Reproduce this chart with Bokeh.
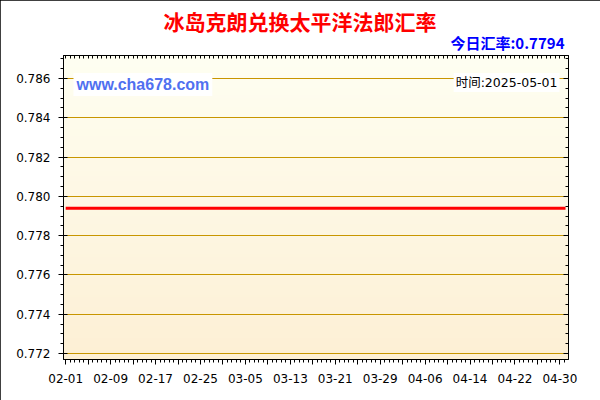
import numpy as np
import pandas as pd
from bokeh.plotting import figure
from bokeh.models import (Range1d, FixedTicker, LinearAxis, DatetimeAxis, Title,
                          Label, NumeralTickFormatter)
from bokeh.embed import file_html
from bokeh.resources import INLINE

# ---------------- data ----------------
title_text = "冰岛克朗兑换太平洋法郎汇率"
current_rate_text = "今日汇率:0.7794"
site_text = "www.cha678.com"
time_text = "时间:2025-05-01"

dates = pd.date_range("2025-02-01", "2025-05-01", freq="D")
rates = [
    0.7794, 0.7794, 0.7794, 0.7794, 0.7794, 0.7794, 0.7794, 0.7794, 0.7794, 0.7794,
    0.7794, 0.7794, 0.7794, 0.7794, 0.7794, 0.7794, 0.7794, 0.7794, 0.7794, 0.7794,
    0.7794, 0.7794, 0.7794, 0.7794, 0.7794, 0.7794, 0.7794, 0.7794, 0.7794, 0.7794,
    0.7794, 0.7794, 0.7794, 0.7794, 0.7794, 0.7794, 0.7794, 0.7794, 0.7794, 0.7794,
    0.7794, 0.7794, 0.7794, 0.7794, 0.7794, 0.7794, 0.7794, 0.7794, 0.7794, 0.7794,
    0.7794, 0.7794, 0.7794, 0.7794, 0.7794, 0.7794, 0.7794, 0.7794, 0.7794, 0.7794,
    0.7794, 0.7794, 0.7794, 0.7794, 0.7794, 0.7794, 0.7794, 0.7794, 0.7794, 0.7794,
    0.7794, 0.7794, 0.7794, 0.7794, 0.7794, 0.7794, 0.7794, 0.7794, 0.7794, 0.7794,
    0.7794, 0.7794, 0.7794, 0.7794, 0.7794, 0.7794, 0.7794, 0.7794, 0.7794, 0.7794,
]
x_tick_labels = ["02-01", "02-09", "02-17", "02-25", "03-05", "03-13",
                 "03-21", "03-29", "04-06", "04-14", "04-22", "04-30"]
y_ticks = [0.772, 0.774, 0.776, 0.778, 0.780, 0.782, 0.784, 0.786]

# ---------------- helpers ----------------
DAY = 86400000.0


def ms(ts):
    return float(pd.Timestamp(ts).value // 10**6)


x_major = [ms(d) for d in pd.date_range("2025-02-01", "2025-04-30", freq="4D")]
label_map = {ms("2025-" + lab): lab for lab in x_tick_labels}
overrides = {t: label_map.get(t, "") for t in x_major}

x_start = ms(dates[0]) - 0.39 * DAY
x_end = ms(dates[-1]) + 0.53 * DAY
y_start, y_end = 0.771695, 0.787171

step = (x_major[1] - x_major[0]) / 5.0
x_minor = []
for t in x_major:
    for k in range(1, 5):
        v = t + k * step
        if v < x_end and v not in x_major:
            x_minor.append(v)

y_minor = [round(v, 4) for v in np.arange(0.7715, 0.7875, 0.0005)
           if y_start <= v <= y_end]

# ---------------- figure ----------------
W, H = 600, 400
FL, FR, FT, FB = 63, 568, 55, 359          # frame edges in px

p = figure(width=W, height=H, output_backend="svg", toolbar_location=None,
           x_axis_type="datetime", title=None,
           x_range=Range1d(x_start, x_end), y_range=Range1d(y_start, y_end),
           min_border_left=FL, min_border_right=W - FR,
           min_border_top=FT, min_border_bottom=H - FB)
p.background_fill_color = "#FFFFF2"
p.border_fill_color = "white"
p.outline_line_color = "black"
p.styles = {"outline": "1px solid black", "outline-offset": "-1px"}

# gradient background
N = 128
img = np.zeros((N, 1), dtype=np.uint32)
view = img.view(dtype=np.uint8).reshape((N, 1, 4))
top_c = np.array([255, 255, 242])
bot_c = np.array([253, 240, 213])
for i in range(N):
    f = i / (N - 1)
    c = bot_c * (1 - f) + top_c * f
    view[i, 0, 0:3] = c.astype(np.uint8)
    view[i, 0, 3] = 255
bg = p.image_rgba(image=[img], x=x_start, y=y_start, dw=x_end - x_start,
                  dh=y_end - y_start)
bg.level = "image"

# grid
p.xgrid.visible = False
p.ygrid.ticker = FixedTicker(ticks=y_ticks)
p.ygrid.grid_line_color = "#C89600"
p.ygrid.grid_line_width = 1

# data line
p.line(dates, rates, line_color="#FF0000", line_width=3)

font_axis = "DejaVu Sans"

# bottom axis
xa = p.xaxis[0]
xa.ticker = FixedTicker(ticks=x_major, minor_ticks=x_minor)
xa.major_label_overrides = overrides
xa.major_tick_out = 5
xa.major_tick_in = 0
xa.minor_tick_out = 3
xa.minor_tick_in = 0
xa.major_label_standoff = 9
xa.major_label_text_font = font_axis
xa.major_label_text_font_size = "12px"
xa.major_label_text_color = "black"
xa.axis_line_color = "black"

# left axis
ya = p.yaxis[0]
ya.ticker = FixedTicker(ticks=y_ticks, minor_ticks=y_minor)
ya.formatter = NumeralTickFormatter(format="0.000")
ya.major_tick_out = 5
ya.major_tick_in = 4
ya.minor_tick_out = 3
ya.minor_tick_in = 0
ya.major_label_standoff = 8
ya.major_label_text_font = font_axis
ya.major_label_text_font_size = "12px"
ya.major_label_text_color = "black"
ya.axis_line_color = "black"

# right axis (ticks only)
ra = LinearAxis(ticker=FixedTicker(ticks=y_ticks, minor_ticks=y_minor),
                major_tick_out=0, major_tick_in=5,
                minor_tick_out=0, minor_tick_in=3,
                major_label_text_font_size="0px", major_label_standoff=0,
                axis_line_color="black")
p.add_layout(ra, "right")

# top axis (ticks only)
ta = DatetimeAxis(ticker=FixedTicker(ticks=[], minor_ticks=sorted(x_major + x_minor)),
                  major_tick_out=0, major_tick_in=0,
                  minor_tick_out=0, minor_tick_in=3,
                  major_label_text_font_size="0px", major_label_standoff=0,
                  axis_line_color="black")
p.add_layout(ta, "above")

# titles
sub = Title(text=current_rate_text, align="right", offset=4,
            text_font="Noto Sans CJK SC", text_font_size="15px",
            text_font_style="bold", text_color="#0000FF", standoff=5)
p.add_layout(sub, "above")
main = Title(text=title_text, align="left", offset=100,
             text_font="Noto Sans CJK SC", text_font_size="21px",
             text_font_style="bold", text_color="#FF0000", standoff=-16)
p.add_layout(main, "above")

# in-plot labels (screen units relative to the frame's bottom-left corner)
p.add_layout(Label(x=10, y=FB - 84, x_units="screen", y_units="screen",
                   text=site_text, text_font="Liberation Sans",
                   text_font_style="bold", text_font_size="16px",
                   text_color="#5070F0", text_baseline="middle",
                   background_fill_color="white", padding=3))
p.add_layout(Label(x=559 - FL, y=FB - 82, x_units="screen", y_units="screen",
                   text=time_text, text_font="DejaVu Sans, Noto Sans CJK SC",
                   text_font_size="12.5px", text_color="black",
                   text_align="right", text_baseline="middle",
                   background_fill_color="white", padding=2))

open("out.html", "w").write(file_html(p, INLINE))
